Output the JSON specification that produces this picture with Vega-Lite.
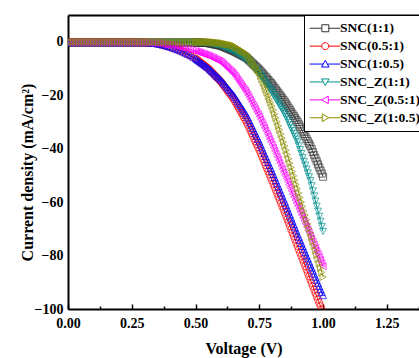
{
  "$schema": "https://vega.github.io/schema/vega-lite/v6.json",
  "width": 351,
  "height": 294,
  "autosize": {"type": "none"},
  "padding": {"left": 68, "top": 15, "right": 0, "bottom": 49},
  "background": "white",
  "view": {"stroke": null},
  "config": {
    "font": "Liberation Serif",
    "axis": {"labelFont": "Liberation Serif", "titleFont": "Liberation Serif"},
    "legend": {"labelFont": "Liberation Serif"}
  },
  "data": {"values": [
    {"V":0,"a":-0.3,"b":-0.2,"c":-0.3,"d":-0.4,"e":-0.3,"f":-0.1},
    {"V":0.01,"a":-0.3,"b":-0.2,"c":-0.3,"d":-0.4,"e":-0.3,"f":-0.1},
    {"V":0.02,"a":-0.3,"b":-0.2,"c":-0.3,"d":-0.4,"e":-0.3,"f":-0.1},
    {"V":0.03,"a":-0.3,"b":-0.2,"c":-0.3,"d":-0.4,"e":-0.3,"f":-0.1},
    {"V":0.04,"a":-0.3,"b":-0.2,"c":-0.3,"d":-0.4,"e":-0.3,"f":-0.1},
    {"V":0.05,"a":-0.3,"b":-0.2,"c":-0.3,"d":-0.4,"e":-0.3,"f":-0.1},
    {"V":0.06,"a":-0.3,"b":-0.2,"c":-0.3,"d":-0.4,"e":-0.3,"f":-0.1},
    {"V":0.07,"a":-0.3,"b":-0.2,"c":-0.3,"d":-0.4,"e":-0.3,"f":-0.1},
    {"V":0.08,"a":-0.3,"b":-0.2,"c":-0.3,"d":-0.4,"e":-0.3,"f":-0.1},
    {"V":0.09,"a":-0.3,"b":-0.2,"c":-0.3,"d":-0.4,"e":-0.3,"f":-0.1},
    {"V":0.1,"a":-0.3,"b":-0.2,"c":-0.3,"d":-0.4,"e":-0.3,"f":-0.1},
    {"V":0.11,"a":-0.3,"b":-0.2,"c":-0.3,"d":-0.4,"e":-0.3,"f":-0.1},
    {"V":0.12,"a":-0.3,"b":-0.2,"c":-0.3,"d":-0.4,"e":-0.3,"f":-0.1},
    {"V":0.13,"a":-0.3,"b":-0.2,"c":-0.3,"d":-0.4,"e":-0.3,"f":-0.1},
    {"V":0.14,"a":-0.3,"b":-0.2,"c":-0.3,"d":-0.4,"e":-0.3,"f":-0.1},
    {"V":0.15,"a":-0.3,"b":-0.2,"c":-0.3,"d":-0.4,"e":-0.3,"f":-0.1},
    {"V":0.16,"a":-0.3,"b":-0.2,"c":-0.3,"d":-0.4,"e":-0.3,"f":-0.1},
    {"V":0.17,"a":-0.3,"b":-0.2,"c":-0.3,"d":-0.4,"e":-0.3,"f":-0.1},
    {"V":0.18,"a":-0.3,"b":-0.2,"c":-0.3,"d":-0.4,"e":-0.3,"f":-0.1},
    {"V":0.19,"a":-0.3,"b":-0.2,"c":-0.3,"d":-0.4,"e":-0.3,"f":-0.1},
    {"V":0.2,"a":-0.3,"b":-0.2,"c":-0.3,"d":-0.4,"e":-0.3,"f":-0.1},
    {"V":0.21,"a":-0.3,"b":-0.2,"c":-0.3,"d":-0.4,"e":-0.3,"f":-0.1},
    {"V":0.22,"a":-0.3,"b":-0.2,"c":-0.3,"d":-0.4,"e":-0.3,"f":-0.1},
    {"V":0.23,"a":-0.3,"b":-0.2,"c":-0.3,"d":-0.4,"e":-0.3,"f":-0.1},
    {"V":0.24,"a":-0.3,"b":-0.2,"c":-0.3,"d":-0.4,"e":-0.3,"f":-0.1},
    {"V":0.25,"a":-0.3,"b":-0.2,"c":-0.3,"d":-0.4,"e":-0.3,"f":-0.1},
    {"V":0.26,"a":-0.3,"b":-0.2,"c":-0.3,"d":-0.4,"e":-0.3,"f":-0.1},
    {"V":0.27,"a":-0.3,"b":-0.2,"c":-0.3,"d":-0.4,"e":-0.3,"f":-0.1},
    {"V":0.28,"a":-0.3,"b":-0.25,"c":-0.3,"d":-0.4,"e":-0.3,"f":-0.1},
    {"V":0.29,"a":-0.3,"b":-0.28,"c":-0.3,"d":-0.4,"e":-0.3,"f":-0.1},
    {"V":0.3,"a":-0.3,"b":-0.3,"c":-0.3,"d":-0.4,"e":-0.3,"f":-0.1},
    {"V":0.31,"a":-0.3,"b":-0.35,"c":-0.35,"d":-0.4,"e":-0.32,"f":-0.1},
    {"V":0.32,"a":-0.3,"b":-0.42,"c":-0.42,"d":-0.4,"e":-0.35,"f":-0.1},
    {"V":0.33,"a":-0.3,"b":-0.5,"c":-0.5,"d":-0.4,"e":-0.4,"f":-0.1},
    {"V":0.34,"a":-0.3,"b":-0.6,"c":-0.6,"d":-0.4,"e":-0.45,"f":-0.1},
    {"V":0.35,"a":-0.3,"b":-0.8,"c":-0.8,"d":-0.4,"e":-0.5,"f":-0.1},
    {"V":0.36,"a":-0.3,"b":-1,"c":-1,"d":-0.4,"e":-0.62,"f":-0.1},
    {"V":0.37,"a":-0.3,"b":-1.2,"c":-1.2,"d":-0.4,"e":-0.76,"f":-0.1},
    {"V":0.38,"a":-0.3,"b":-1.45,"c":-1.45,"d":-0.4,"e":-0.9,"f":-0.1},
    {"V":0.39,"a":-0.3,"b":-1.7,"c":-1.7,"d":-0.4,"e":-1.05,"f":-0.1},
    {"V":0.4,"a":-0.3,"b":-2,"c":-2,"d":-0.4,"e":-1.2,"f":-0.1},
    {"V":0.41,"a":-0.3,"b":-2.3,"c":-2.3,"d":-0.4,"e":-1.38,"f":-0.1},
    {"V":0.42,"a":-0.3,"b":-2.65,"c":-2.65,"d":-0.4,"e":-1.57,"f":-0.1},
    {"V":0.43,"a":-0.3,"b":-3,"c":-3,"d":-0.4,"e":-1.77,"f":-0.1},
    {"V":0.44,"a":-0.3,"b":-3.4,"c":-3.4,"d":-0.4,"e":-1.98,"f":-0.1},
    {"V":0.45,"a":-0.3,"b":-3.8,"c":-3.8,"d":-0.4,"e":-2.2,"f":-0.1},
    {"V":0.46,"a":-0.3,"b":-4.25,"c":-4.25,"d":-0.4,"e":-2.44,"f":-0.1},
    {"V":0.47,"a":-0.3,"b":-4.7,"c":-4.7,"d":-0.4,"e":-2.69,"f":-0.1},
    {"V":0.48,"a":-0.3,"b":-5.2,"c":-5.2,"d":-0.4,"e":-2.95,"f":-0.1},
    {"V":0.49,"a":-0.3,"b":-5.75,"c":-5.75,"d":-0.4,"e":-3.22,"f":-0.1},
    {"V":0.5,"a":-0.3,"b":-6.3,"c":-6.3,"d":-0.4,"e":-3.5,"f":-0.1},
    {"V":0.505,"a":-0.32,"b":-6.67,"c":-6.65,"d":-0.41,"e":-3.67,"f":-0.1},
    {"V":0.51,"a":-0.34,"b":-7.04,"c":-7,"d":-0.42,"e":-3.84,"f":-0.1},
    {"V":0.515,"a":-0.36,"b":-7.41,"c":-7.35,"d":-0.43,"e":-4.01,"f":-0.1},
    {"V":0.52,"a":-0.38,"b":-7.78,"c":-7.7,"d":-0.44,"e":-4.18,"f":-0.1},
    {"V":0.525,"a":-0.4,"b":-8.15,"c":-8.05,"d":-0.45,"e":-4.35,"f":-0.1},
    {"V":0.53,"a":-0.42,"b":-8.52,"c":-8.4,"d":-0.46,"e":-4.52,"f":-0.1},
    {"V":0.535,"a":-0.44,"b":-8.89,"c":-8.75,"d":-0.47,"e":-4.69,"f":-0.1},
    {"V":0.54,"a":-0.46,"b":-9.26,"c":-9.1,"d":-0.48,"e":-4.86,"f":-0.1},
    {"V":0.545,"a":-0.48,"b":-9.63,"c":-9.45,"d":-0.49,"e":-5.03,"f":-0.1},
    {"V":0.55,"a":-0.5,"b":-10,"c":-9.8,"d":-0.5,"e":-5.2,"f":-0.1},
    {"V":0.555,"a":-0.6,"b":-10.5,"c":-10.25,"d":-0.6,"e":-5.43,"f":-0.14},
    {"V":0.56,"a":-0.7,"b":-11,"c":-10.7,"d":-0.7,"e":-5.66,"f":-0.18},
    {"V":0.565,"a":-0.8,"b":-11.5,"c":-11.15,"d":-0.8,"e":-5.89,"f":-0.22},
    {"V":0.57,"a":-0.9,"b":-12,"c":-11.6,"d":-0.9,"e":-6.12,"f":-0.26},
    {"V":0.575,"a":-1,"b":-12.5,"c":-12.05,"d":-1,"e":-6.35,"f":-0.3},
    {"V":0.58,"a":-1.1,"b":-13,"c":-12.5,"d":-1.1,"e":-6.58,"f":-0.34},
    {"V":0.585,"a":-1.2,"b":-13.5,"c":-12.95,"d":-1.2,"e":-6.81,"f":-0.38},
    {"V":0.59,"a":-1.3,"b":-14,"c":-13.4,"d":-1.3,"e":-7.04,"f":-0.42},
    {"V":0.595,"a":-1.4,"b":-14.5,"c":-13.85,"d":-1.4,"e":-7.27,"f":-0.46},
    {"V":0.6,"a":-1.5,"b":-15,"c":-14.3,"d":-1.5,"e":-7.5,"f":-0.5},
    {"V":0.605,"a":-1.7,"b":-15.65,"c":-14.87,"d":-1.7,"e":-7.95,"f":-0.6},
    {"V":0.61,"a":-1.9,"b":-16.3,"c":-15.44,"d":-1.9,"e":-8.4,"f":-0.7},
    {"V":0.615,"a":-2.1,"b":-16.95,"c":-16.01,"d":-2.1,"e":-8.85,"f":-0.8},
    {"V":0.62,"a":-2.3,"b":-17.6,"c":-16.58,"d":-2.3,"e":-9.3,"f":-0.9},
    {"V":0.625,"a":-2.5,"b":-18.25,"c":-17.15,"d":-2.5,"e":-9.75,"f":-1},
    {"V":0.63,"a":-2.7,"b":-18.9,"c":-17.72,"d":-2.7,"e":-10.2,"f":-1.1},
    {"V":0.635,"a":-2.9,"b":-19.55,"c":-18.29,"d":-2.9,"e":-10.65,"f":-1.2},
    {"V":0.64,"a":-3.1,"b":-20.2,"c":-18.86,"d":-3.1,"e":-11.1,"f":-1.3},
    {"V":0.645,"a":-3.3,"b":-20.85,"c":-19.43,"d":-3.3,"e":-11.55,"f":-1.4},
    {"V":0.65,"a":-3.5,"b":-21.5,"c":-20,"d":-3.5,"e":-12,"f":-1.5},
    {"V":0.655,"a":-3.75,"b":-22.35,"c":-20.75,"d":-3.8,"e":-12.7,"f":-1.8},
    {"V":0.66,"a":-4,"b":-23.2,"c":-21.5,"d":-4.1,"e":-13.4,"f":-2.1},
    {"V":0.665,"a":-4.25,"b":-24.05,"c":-22.25,"d":-4.4,"e":-14.1,"f":-2.4},
    {"V":0.67,"a":-4.5,"b":-24.9,"c":-23,"d":-4.7,"e":-14.8,"f":-2.7},
    {"V":0.675,"a":-4.75,"b":-25.75,"c":-23.75,"d":-5,"e":-15.5,"f":-3},
    {"V":0.68,"a":-5,"b":-26.6,"c":-24.5,"d":-5.3,"e":-16.2,"f":-3.3},
    {"V":0.685,"a":-5.25,"b":-27.45,"c":-25.25,"d":-5.6,"e":-16.9,"f":-3.6},
    {"V":0.69,"a":-5.5,"b":-28.3,"c":-26,"d":-5.9,"e":-17.6,"f":-3.9},
    {"V":0.695,"a":-5.75,"b":-29.15,"c":-26.75,"d":-6.2,"e":-18.3,"f":-4.2},
    {"V":0.7,"a":-6,"b":-30,"c":-27.5,"d":-6.5,"e":-19,"f":-4.5},
    {"V":0.705,"a":-6.45,"b":-31.05,"c":-28.5,"d":-7.05,"e":-19.9,"f":-5.2},
    {"V":0.71,"a":-6.9,"b":-32.1,"c":-29.5,"d":-7.6,"e":-20.8,"f":-5.9},
    {"V":0.715,"a":-7.35,"b":-33.15,"c":-30.5,"d":-8.15,"e":-21.7,"f":-6.6},
    {"V":0.72,"a":-7.8,"b":-34.2,"c":-31.5,"d":-8.7,"e":-22.6,"f":-7.3},
    {"V":0.725,"a":-8.25,"b":-35.25,"c":-32.5,"d":-9.25,"e":-23.5,"f":-8},
    {"V":0.73,"a":-8.7,"b":-36.3,"c":-33.5,"d":-9.8,"e":-24.4,"f":-8.7},
    {"V":0.735,"a":-9.15,"b":-37.35,"c":-34.5,"d":-10.35,"e":-25.3,"f":-9.4},
    {"V":0.74,"a":-9.6,"b":-38.4,"c":-35.5,"d":-10.9,"e":-26.2,"f":-10.1},
    {"V":0.745,"a":-10.05,"b":-39.45,"c":-36.5,"d":-11.45,"e":-27.1,"f":-10.8},
    {"V":0.75,"a":-10.5,"b":-40.5,"c":-37.5,"d":-12,"e":-28,"f":-11.5},
    {"V":0.755,"a":-11.05,"b":-41.65,"c":-38.6,"d":-12.7,"e":-29.05,"f":-12.75},
    {"V":0.76,"a":-11.6,"b":-42.8,"c":-39.7,"d":-13.4,"e":-30.1,"f":-14},
    {"V":0.765,"a":-12.15,"b":-43.95,"c":-40.8,"d":-14.1,"e":-31.15,"f":-15.25},
    {"V":0.77,"a":-12.7,"b":-45.1,"c":-41.9,"d":-14.8,"e":-32.2,"f":-16.5},
    {"V":0.775,"a":-13.25,"b":-46.25,"c":-43,"d":-15.5,"e":-33.25,"f":-17.75},
    {"V":0.78,"a":-13.8,"b":-47.4,"c":-44.1,"d":-16.2,"e":-34.3,"f":-19},
    {"V":0.785,"a":-14.35,"b":-48.55,"c":-45.2,"d":-16.9,"e":-35.35,"f":-20.25},
    {"V":0.79,"a":-14.9,"b":-49.7,"c":-46.3,"d":-17.6,"e":-36.4,"f":-21.5},
    {"V":0.795,"a":-15.45,"b":-50.85,"c":-47.4,"d":-18.3,"e":-37.45,"f":-22.75},
    {"V":0.8,"a":-16,"b":-52,"c":-48.5,"d":-19,"e":-38.5,"f":-24},
    {"V":0.805,"a":-16.65,"b":-53.2,"c":-49.65,"d":-19.8,"e":-39.65,"f":-25.5},
    {"V":0.81,"a":-17.3,"b":-54.4,"c":-50.8,"d":-20.6,"e":-40.8,"f":-27},
    {"V":0.815,"a":-17.95,"b":-55.6,"c":-51.95,"d":-21.4,"e":-41.95,"f":-28.5},
    {"V":0.82,"a":-18.6,"b":-56.8,"c":-53.1,"d":-22.2,"e":-43.1,"f":-30},
    {"V":0.825,"a":-19.25,"b":-58,"c":-54.25,"d":-23,"e":-44.25,"f":-31.5},
    {"V":0.83,"a":-19.9,"b":-59.2,"c":-55.4,"d":-23.8,"e":-45.4,"f":-33},
    {"V":0.835,"a":-20.55,"b":-60.4,"c":-56.55,"d":-24.6,"e":-46.55,"f":-34.5},
    {"V":0.84,"a":-21.2,"b":-61.6,"c":-57.7,"d":-25.4,"e":-47.7,"f":-36},
    {"V":0.845,"a":-21.85,"b":-62.8,"c":-58.85,"d":-26.2,"e":-48.85,"f":-37.5},
    {"V":0.85,"a":-22.5,"b":-64,"c":-60,"d":-27,"e":-50,"f":-39},
    {"V":0.855,"a":-23.25,"b":-65.25,"c":-61.2,"d":-28.05,"e":-51.15,"f":-40.6},
    {"V":0.86,"a":-24,"b":-66.5,"c":-62.4,"d":-29.1,"e":-52.3,"f":-42.2},
    {"V":0.865,"a":-24.75,"b":-67.75,"c":-63.6,"d":-30.15,"e":-53.45,"f":-43.8},
    {"V":0.87,"a":-25.5,"b":-69,"c":-64.8,"d":-31.2,"e":-54.6,"f":-45.4},
    {"V":0.875,"a":-26.25,"b":-70.25,"c":-66,"d":-32.25,"e":-55.75,"f":-47},
    {"V":0.88,"a":-27,"b":-71.5,"c":-67.2,"d":-33.3,"e":-56.9,"f":-48.6},
    {"V":0.885,"a":-27.75,"b":-72.75,"c":-68.4,"d":-34.35,"e":-58.05,"f":-50.2},
    {"V":0.89,"a":-28.5,"b":-74,"c":-69.6,"d":-35.4,"e":-59.2,"f":-51.8},
    {"V":0.895,"a":-29.25,"b":-75.25,"c":-70.8,"d":-36.45,"e":-60.35,"f":-53.4},
    {"V":0.9,"a":-30,"b":-76.5,"c":-72,"d":-37.5,"e":-61.5,"f":-55},
    {"V":0.905,"a":-30.9,"b":-77.75,"c":-73.15,"d":-38.95,"e":-62.6,"f":-56.65},
    {"V":0.91,"a":-31.8,"b":-79,"c":-74.3,"d":-40.4,"e":-63.7,"f":-58.3},
    {"V":0.915,"a":-32.7,"b":-80.25,"c":-75.45,"d":-41.85,"e":-64.8,"f":-59.95},
    {"V":0.92,"a":-33.6,"b":-81.5,"c":-76.6,"d":-43.3,"e":-65.9,"f":-61.6},
    {"V":0.925,"a":-34.5,"b":-82.75,"c":-77.75,"d":-44.75,"e":-67,"f":-63.25},
    {"V":0.93,"a":-35.4,"b":-84,"c":-78.9,"d":-46.2,"e":-68.1,"f":-64.9},
    {"V":0.935,"a":-36.3,"b":-85.25,"c":-80.05,"d":-47.65,"e":-69.2,"f":-66.55},
    {"V":0.94,"a":-37.2,"b":-86.5,"c":-81.2,"d":-49.1,"e":-70.3,"f":-68.2},
    {"V":0.945,"a":-38.1,"b":-87.75,"c":-82.35,"d":-50.55,"e":-71.4,"f":-69.85},
    {"V":0.95,"a":-39,"b":-89,"c":-83.5,"d":-52,"e":-72.5,"f":-71.5},
    {"V":0.955,"a":-40.15,"b":-90.25,"c":-84.65,"d":-53.9,"e":-73.65,"f":-73.15},
    {"V":0.96,"a":-41.3,"b":-91.5,"c":-85.8,"d":-55.8,"e":-74.8,"f":-74.8},
    {"V":0.965,"a":-42.45,"b":-92.75,"c":-86.95,"d":-57.7,"e":-75.95,"f":-76.45},
    {"V":0.97,"a":-43.6,"b":-94,"c":-88.1,"d":-59.6,"e":-77.1,"f":-78.1},
    {"V":0.975,"a":-44.75,"b":-95.25,"c":-89.25,"d":-61.5,"e":-78.25,"f":-79.75},
    {"V":0.98,"a":-45.9,"b":-96.5,"c":-90.4,"d":-63.4,"e":-79.4,"f":-81.4},
    {"V":0.985,"a":-47.05,"b":-97.75,"c":-91.55,"d":-65.3,"e":-80.55,"f":-83.05},
    {"V":0.99,"a":-48.2,"b":-99,"c":-92.7,"d":-67.2,"e":-81.7,"f":-84.7},
    {"V":0.995,"a":-49.35,"b":-100.25,"c":-93.85,"d":-69.1,"e":-82.85,"f":-86.35},
    {"V":1,"a":-50.5,"b":-101.5,"c":-95,"d":-71,"e":-84,"f":-88}
  ]},
  "transform": [{"fold": ["a","b","c","d","e","f"], "as": ["series","J"]}],
  "encoding": {
    "x": {
      "field": "V", "type": "quantitative",
      "scale": {"domain": [0, 1.376], "nice": false, "zero": false},
      "axis": {
        "title": "Voltage (V)",
        "values": [0,0.125,0.25,0.375,0.5,0.625,0.75,0.875,1,1.125,1.25,1.375],
        "labelExpr": "round(datum.value*8)%2==0 ? format(datum.value,'.2f') : ''",
        "labelFontSize": 14, "labelFontWeight": "bold", "labelColor": "black",
        "labelPadding": 12, "labelFlush": false, "labelOverlap": false,
        "tickSize": {"condition": {"test": "round(datum.value*8)%2==0", "value": -5}, "value": -3},
        "tickColor": "black", "tickWidth": 1.5,
        "domainColor": "black", "domainWidth": 2,
        "grid": false,
        "titleFontSize": 16, "titleFontWeight": "bold", "titleColor": "black", "titlePadding": 8
      }
    },
    "y": {
      "field": "J", "type": "quantitative",
      "scale": {"domain": [-100, 10], "nice": false},
      "axis": {
        "title": "Current density (mA/cm²)",
        "values": [-100,-80,-60,-40,-20,0,10],
        "labelExpr": "datum.value > 5 ? '' : datum.label",
        "labelFontSize": 14, "labelFontWeight": "bold", "labelColor": "black",
        "labelPadding": 5, "tickSize": 0,
        "grid": true,
        "gridColor": {"condition": {"test": "datum.value > 5", "value": "black"}, "value": "transparent"},
        "gridWidth": 2,
        "domainColor": "black", "domainWidth": 2,
        "titleFontSize": 16, "titleFontWeight": "bold", "titleColor": "black",
        "titleX": -33, "titleY": 157
      }
    },
    "color": {"field": "series", "type": "nominal",
      "scale": {"domain": ["a","b","c","d","e","f"], "range": ["#333333","#ff0000","#0000ff","#009090","#ff00ff","#8c8c00"]},
      "legend": {
        "title": null, "orient": "none", "legendX": 236, "legendY": 0,
        "strokeColor": "black", "fillColor": "white", "padding": 6.5, "rowPadding": 2.9,
        "labelFontSize": 13.5, "labelFontWeight": "bold", "labelColor": "black",
        "labelOffset": 16, "symbolSize": 64, "symbolStrokeWidth": 1,
        "labelExpr": "datum.value=='a'?'SNC(1:1)':datum.value=='b'?'SNC(0.5:1)':datum.value=='c'?'SNC(1:0.5)':datum.value=='d'?'SNC_Z(1:1)':datum.value=='e'?'SNC_Z(0.5:1)':'SNC_Z(1:0.5)'",
        "encode": {"symbols": {"update": {
          "shape": {"signal": "datum.value=='a'?'M-1.9,0H1.14M2.89,0H5.8M1.14,-0.875H2.89V0.875H1.14Z':datum.value=='b'?'M-1.9,0H1.14M2.89,0H5.8M1.14,0A0.875,0.875,0,1,1,2.89,0A0.875,0.875,0,1,1,1.14,0Z':datum.value=='c'?'M-1.9,0H1.49M2.53,0H5.8M2.01,-0.9L2.95,0.75L1.07,0.75Z':datum.value=='d'?'M-1.9,0H1.49M2.53,0H5.8M2.01,0.9L2.95,-0.75L1.07,-0.75Z':datum.value=='e'?'M-1.9,0H1.11M2.76,0H5.8M1.11,0L2.76,-0.95L2.76,0.95Z':'M-1.9,0H1.26M2.91,0H5.8M2.91,0L1.26,-0.95L1.26,0.95Z'"},
          "fill": {"value": "transparent"}
        }}}
      }
    }
  },
  "layer": [
    {"mark": {"type": "line", "strokeWidth": 1, "clip": true}},
    {"transform": [{"filter": {"field": "series", "equal": "a"}}],
     "mark": {"type": "point", "shape": "square", "filled": false, "strokeWidth": 1, "size": 50, "clip": true}},
    {"transform": [{"filter": {"field": "series", "equal": "b"}}],
     "mark": {"type": "point", "shape": "circle", "filled": false, "strokeWidth": 1, "size": 50, "clip": true}},
    {"transform": [{"filter": {"field": "series", "equal": "c"}}],
     "mark": {"type": "point", "shape": "triangle-up", "filled": false, "strokeWidth": 1, "size": 50, "clip": true}},
    {"transform": [{"filter": {"field": "series", "equal": "d"}}],
     "mark": {"type": "point", "shape": "triangle-down", "filled": false, "strokeWidth": 1, "size": 50, "clip": true}},
    {"transform": [{"filter": {"field": "series", "equal": "e"}}],
     "mark": {"type": "point", "shape": "triangle-left", "filled": false, "strokeWidth": 1, "size": 50, "clip": true}},
    {"transform": [{"filter": {"field": "series", "equal": "f"}}],
     "mark": {"type": "point", "shape": "triangle-right", "filled": false, "strokeWidth": 1, "size": 50, "clip": true}}
  ]
}
